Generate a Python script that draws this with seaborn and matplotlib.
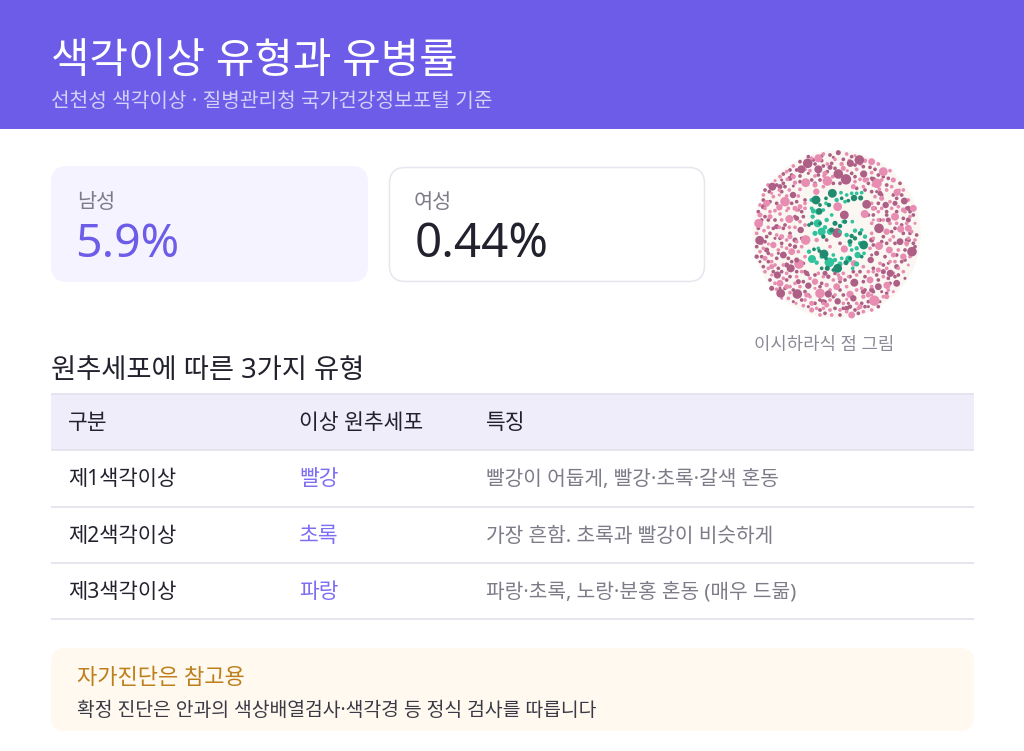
import matplotlib
matplotlib.use('Agg')
import matplotlib.pyplot as plt
from matplotlib.patches import Rectangle, FancyBboxPatch, Circle
import pandas as pd
import seaborn as sns

sns.set_theme(style='white')
plt.rcParams['font.family'] = ['Noto Sans', 'Noto Sans CJK KR', 'DejaVu Sans']

W, H = 1024, 751
PURPLE = '#6c5ce7'

title = '색각이상 유형과 유병률'
subtitle = '선천성 색각이상 · 질병관리청 국가건강정보포털 기준'
stat_labels = ['남성', '여성']
stat_values = [5.9, 0.44]
plate_caption = '이시하라식 점 그림'
table_title = '원추세포에 따른 3가지 유형'
columns = ['구분', '이상 원추세포', '특징']
types = ['제1색각이상', '제2색각이상', '제3색각이상']
cones = ['빨강', '초록', '파랑']
traits = ['빨강이 어둡게, 빨강·초록·갈색 혼동',
          '가장 흔함. 초록과 빨강이 비슷하게',
          '파랑·초록, 노랑·분홍 혼동 (매우 드묾)']
note_head = '자가진단은 참고용'
note_body = '확정 진단은 안과의 색상배열검사·색각경 등 정식 검사를 따릅니다'

pink_small = [(250,42,4),(320,42,4),(345,47,3),(215,55,4),(285,58,4),(375,62,5),(160,78,4),(262,72,4),(305,72,5),(140,95,4),
    (415,72,4),(450,92,4),(120,110,4),(165,128,5),(225,108,4),(350,88,4),(395,98,4),(105,122,3),(84,135,4),(70,165,4),
    (148,150,4),(180,148,4),(345,125,4),(400,135,4),(440,150,4),(490,150,4),(505,180,4),(100,170,4),(60,195,4),(118,165,3),
    (170,210,4),(195,205,4),(405,170,4),(450,185,4),(475,200,4),(415,215,4),(510,230,4),(90,215,4),(125,240,4),(85,262,4),
    (165,262,4),(195,255,4),(395,250,4),(450,250,4),(525,250,3),(50,280,4),(110,285,4),(140,300,4),(170,305,4),(400,295,4),
    (460,290,4),(505,295,4),(70,325,4),(115,330,4),(175,335,4),(230,300,5),(270,320,4),(390,325,4),(475,330,4),(95,365,4),
    (130,375,4),(195,350,4),(280,420,4),(370,380,4),(420,370,4),(465,365,4),(505,375,3),(85,385,4),(170,410,4),(235,400,4),
    (310,400,4),(350,405,4),(400,395,4),(490,395,4),(105,430,4),(150,440,4),(260,435,5),(320,440,4),(365,445,4),(430,410,4),
    (145,475,4),(195,480,4),(215,510,6),(270,480,4),(310,490,4),(370,470,5),(430,470,4),(460,455,3),(190,497,4),(250,505,4),
    (300,510,4),(355,505,4),(395,510,4),(335,525,7),(240,525,4),(275,525,4),(168,490,3),
    (232,50,4),(328,62,4),(362,72,4),(195,88,4),(210,92,4),(252,108,4),(278,110,4),(322,92,3),(382,118,4),(425,120,4),
    (142,118,4),(118,150,4),(95,160,3),(140,168,4),(175,168,4),(250,140,4),(360,118,4),(370,140,4),(418,148,4),
    (455,140,4),(478,150,3),(75,205,4),(105,212,4),(145,205,4),(195,190,4),(395,190,4),(425,205,4),(455,205,4),(495,215,4),
    (120,222,4),(140,212,3),(180,245,4),(400,240,3),(430,240,4),(500,250,4),(72,272,4),(118,262,4),(148,262,4),
    (415,240,4),(470,250,4),(515,275,4),(65,310,4),(85,312,3),(140,325,4),(185,320,4),(395,280,4),
    (450,300,4),(500,315,3),(525,300,4),(60,335,4),(95,345,4),(125,320,3),(450,365,4),(510,350,4),
    (75,395,4),(105,375,4),(140,400,4),(185,395,4),(250,410,4),(295,405,4),(385,395,4),(440,385,4),(475,385,4),(95,405,3),
    (130,415,4),(165,430,4),(210,415,4),(285,465,4),(325,410,3),(395,440,4),(460,400,4),(180,440,4),(225,445,3),(270,450,4),
    (350,450,4),(385,460,4),(445,450,4),(210,470,4),(250,490,4),(320,478,3),(350,490,4),(395,465,3),(230,505,4),(270,510,4),
    (320,515,4),(370,515,4),(150,458,4),(110,448,4),(125,475,3),
    (310,85,6),(255,100,6),(225,135,6),(90,230,6),(125,290,6),(165,205,6),(400,205,6),(425,175,6),(490,210,6),(500,310,6),
    (460,345,6),(95,380,6),(140,440,6),(200,465,6),(260,495,6),(360,500,6),(415,390,6),(385,465,6),(215,490,6),(440,470,6),
    (300,415,6),(375,120,6),(180,200,6),(150,290,6)]
mauve_small = [(270,45,4),(295,38,6),(335,50,4),(205,50,4),(245,62,4),(310,58,4),(180,65,4),(225,72,4),(285,85,4),(345,75,4),
    (390,82,4),(150,90,4),(130,102,4),(262,95,4),(335,100,4),(415,105,4),(445,115,4),(110,135,4),(130,130,4),(225,130,4),
    (350,145,4),(385,130,4),(480,130,4),(75,150,4),(125,155,4),(395,155,4),(425,165,4),(470,175,4),(90,185,4),
    (55,215,4),(110,190,4),(170,185,4),(195,180,4),(415,190,4),(500,205,4),(75,230,4),(105,240,4),(165,230,4),(190,230,4),
    (400,225,4),(440,225,4),(490,235,4),(520,225,4),(100,265,4),(130,265,4),(385,225,4),(465,265,4),(530,285,4),
    (80,290,4),(125,310,4),(150,280,4),(165,320,5),(260,300,4),(300,310,4),(430,290,4),(490,280,4),(520,310,4),
    (50,350,5),(85,340,4),(145,355,4),(435,350,4),(470,345,4),(495,330,4),(110,355,4),(70,380,4),
    (125,395,4),(195,395,4),(265,410,5),(330,410,4),(375,410,4),(410,405,4),(465,410,4),(495,415,3),(90,420,4),
    (140,420,4),(190,425,4),(245,430,4),(300,425,4),(370,425,4),(415,420,4),(445,415,4),(135,445,4),(205,465,4),(310,465,4),
    (365,490,4),(440,460,4),(160,485,3),(225,490,4),(255,485,4),(285,505,4),(330,500,5),(375,500,4),(415,500,4),(205,500,3),
    (255,520,4),(300,525,4),(355,520,4),(400,315,4),(440,310,4),(240,120,4),(280,130,4),(300,130,4),(180,108,4),(160,138,3),
    (245,48,4),(280,52,3),(350,62,4),(220,60,4),(195,72,4),(170,90,4),(205,100,3),(250,78,4),(275,70,4),(370,80,4),
    (405,88,4),(430,110,4),(155,105,4),(125,120,3),(215,120,4),(235,105,4),(345,110,4),(395,115,4),(440,135,4),(88,155,4),
    (135,140,4),(180,125,4),(375,150,4),(410,155,3),(460,165,4),(485,165,4),(70,180,4),(155,190,4),(185,215,4),
    (405,205,4),(440,215,4),(470,215,4),(65,240,4),(85,240,4),(135,255,4),(175,210,3),(420,240,4),(485,255,4),
    (510,215,4),(55,265,4),(90,280,4),(120,295,4),(185,295,4),(425,305,4),(455,275,4),(510,280,4),(50,320,4),
    (75,305,4),(105,295,3),(150,315,4),(465,310,4),(500,300,4),(65,350,4),(115,340,3),(155,365,4),
    (190,370,4),(400,385,4),(430,375,4),(485,365,4),(525,320,4),(85,365,4),(60,365,3),(115,385,4),(170,395,4),(225,405,4),
    (340,395,4),(395,345,3),(445,370,3),(495,360,4),(100,395,4),(150,410,4),(205,405,3),(285,400,4),(315,420,4),(360,395,4),
    (475,405,4),(120,445,3),(160,450,4),(195,455,4),(240,440,4),(300,450,4),(375,450,4),(400,455,4),(425,455,3),(450,430,4),
    (185,480,4),(240,480,4),(280,470,4),(325,490,3),(385,485,4),(420,485,3),(240,510,4),(310,505,4),(345,510,4),(385,500,3),
    (150,115,6),(270,82,6),(400,118,6),(120,140,6),(70,200,6),(170,235,6),(420,160,6),(465,190,6),(445,240,6),(505,240,6),
    (110,260,6),(80,330,6),(140,375,6),(200,400,6),(255,400,6),(470,380,6),(430,395,6),(175,425,6),(95,445,6),(250,485,6),
    (370,455,6),(320,505,6),(395,450,6),(505,300,6),(165,300,6),(395,300,6),(505,205,6)]
pink_dots = [(235,55,10),(262,123,12),(197,128,11),(148,237,10),(56,250,11),(197,300,12),(177,372,12),(240,460,12),(403,482,13),
    (465,230,10),(374,222,10),(293,200,11),(417,318,10),(313,327,9),(471,157,9),(430,95,11),(411,130,12),(342,370,8),(330,463,9),
    (441,436,9),(482,267,9),(490,350,8),(135,185,12),(229,155,8),(118,202,8),(100,315,8),(155,335,7),(75,355,6),(120,430,7),
    (225,425,8),(290,440,7),(390,420,7),(448,330,7),(505,265,7),(520,205,7),(460,120,6),(395,65,7),(160,110,6),
    (80,190,7),(60,225,6),(440,275,8),(340,140,6)]
mauve_dots = [(203,70,12),(184,88,10),(331,70,9),(358,60,12),(295,102,12),(318,118,13),(371,102,9),(97,140,10),(159,165,8),
    (417,265,12),(516,335,12),(59,301,11),(291,279,12),(313,225,11),(112,405,9),(122,460,11),(172,462,12),(343,428,10),(392,360,8),
    (451,400,9),(152,385,10),(340,475,8),(480,305,7),(265,462,9),(205,437,8),(293,484,8),(235,88,10),(182,270,8),(130,345,7),
    (437,195,8),(493,183,7),(410,340,6),(470,430,7),(415,440,7),(380,193,11),(170,360,6)]
green_dots = [(233,250,10),(216,357,10),(268,367,12),(245,275,10),(353,345,8),(326,357,7),(303,158,4),(335,160,4),(365,158,4),
    (235,215,8),(220,213,6),(270,275,8),(215,180,5),(345,272,5),(320,285,5),(207,335,5),(230,368,5),(258,190,4),(250,210,4),
    (283,162,4),(310,245,4),(337,245,4),(300,372,6),(350,372,6),(335,330,4),(375,290,5),(360,310,5),(305,355,4),(245,350,5),
    (280,345,4),(225,280,6),(330,315,4),(260,240,5),(320,165,4),(350,160,4),(290,180,5),(315,185,4),(218,230,5),(255,262,5),
    (300,275,4),(365,270,4),(350,325,5),(372,340,4),(235,325,4),(285,360,5),(338,385,4),(215,205,4),(275,225,4)]
deep_dots = [(228,180,11),(277,160,11),(342,174,8),(362,174,6),(371,315,11),(293,385,11),(252,342,11),(238,214,8),(258,175,4),
    (267,195,5),(240,250,4),(285,250,6),(315,245,5),(330,305,6),(345,295,5),(262,385,6),(318,368,6),(335,288,5),(215,250,4),
    (207,255,4),(222,328,4),(238,333,4),(258,355,4),(275,270,6),(250,290,5),(360,280,5),(365,350,4),(240,195,4),(305,175,4),
    (325,182,4),(300,258,5),(330,355,4),(280,390,4),(245,385,4)]
tones = {'pink': '#e88db2', 'mauve': '#ad5f86', 'green': '#2fc29c', 'deep': '#1f8a70'}


def plate_frame():
    groups = [('mauve', mauve_small), ('pink', pink_small), ('pink', pink_dots),
              ('mauve', mauve_dots), ('green', green_dots), ('deep', deep_dots)]
    rows = [(x, y, r, tone) for tone, dots in groups for x, y, r in dots]
    df = pd.DataFrame(rows, columns=['x', 'y', 'r', 'tone'])
    # the small ones read a bit short in the crop
    df.loc[df['r'] < 8, 'r'] += 1.6
    df.loc[df['r'] >= 8, 'r'] *= 1.2
    return df


def panel(ax, x0, y0, x1, y1, radius, face, edge='none', lw=0):
    ax.add_patch(FancyBboxPatch((x0 + radius, y0 + radius), x1 - x0 - 2 * radius, y1 - y0 - 2 * radius,
                                boxstyle=f'round,pad={radius},rounding_size={radius}',
                                facecolor=face, edgecolor=edge, linewidth=lw))


fig = plt.figure(figsize=(W / 100, H / 100), dpi=100, facecolor='white')
ax = fig.add_axes([0, 0, 1, 1])
ax.set_xlim(0, W)
ax.set_ylim(H, 0)
ax.axis('off')

# header
ax.add_patch(Rectangle((0, 0), W, 129, facecolor=PURPLE, edgecolor='none'))
ax.text(51, 73, title, color='white', fontsize=30.1, va='baseline')
ax.text(51, 107, subtitle, color='#d6d1f9', fontsize=14.55, va='baseline')

# stat cards
panel(ax, 51, 166, 368, 282, 16, '#f5f3ff')
panel(ax, 389.5, 167.5, 704.5, 281.5, 16, 'white', '#e6e6ee', 1.1)
ax.text(77, 208, stat_labels[0], color='#7c7c88', fontsize=15, va='baseline')
ax.text(414, 208, stat_labels[1], color='#7c7c88', fontsize=15, va='baseline')
ax.text(75, 257, f'{stat_values[0]}%', color=PURPLE, fontsize=33.4, va='baseline')
ax.text(415, 257, f'{stat_values[1]}%', color='#22222e', fontsize=34.2, va='baseline')

# table
ax.text(51, 378, table_title, color='#22222e', fontsize=19.7, va='baseline')
ax.add_patch(Rectangle((51, 393), 923, 57, facecolor='#eeedf9', edgecolor='none'))
for y in [393.5, 450, 506.5, 562.5, 618.5]:
    ax.plot([51, 974], [y, y], color='#e4e4ee', lw=1.3, solid_capstyle='butt')
for x, label in zip([68, 299, 486], columns):
    ax.text(x, 421, label, color='#22222e', fontsize=15.5, va='center_baseline')
for y, kind, cone, trait in zip([477, 534, 590], types, cones, traits):
    ax.text(68, y, kind, color='#22222e', fontsize=15.1, va='center_baseline')
    ax.text(299, y, cone, color='#7d6ef5', fontsize=15.5, va='center_baseline')
    ax.text(486, y, trait, color='#7c7c88', fontsize=14.6, va='center_baseline')

# note box
panel(ax, 51, 648, 974, 731, 14, '#fff9ef')
ax.text(77, 676, note_head, color='#bd7f1c', fontsize=15.9, va='center_baseline')
ax.text(77, 708, note_body, color='#3a3a46', fontsize=13.95, va='center_baseline')

ax.text(824, 343, plate_caption, color='#8a8a96', fontsize=12.8, ha='center', va='center_baseline')

# plate, in crop units (three units to a pixel)
plate_ax = fig.add_axes([740 / W, 1 - 360 / H, 190 / W, 220 / H])
plate_ax.set_xlim(0, 570)
plate_ax.set_ylim(660, 0)
plate_ax.axis('off')
plate_ax.patch.set_alpha(0)
plate_ax.add_patch(Circle((290, 283), 252, facecolor='#faf7f2', edgecolor='none'))
df = plate_frame()
sns.scatterplot(data=df, x='x', y='y', hue='tone', palette=tones, s=(df['r'] * 0.48) ** 2,
                linewidth=0, legend=False, ax=plate_ax)
plate_ax.set_xlabel('')
plate_ax.set_ylabel('')

fig.savefig('out.png', dpi=100)
